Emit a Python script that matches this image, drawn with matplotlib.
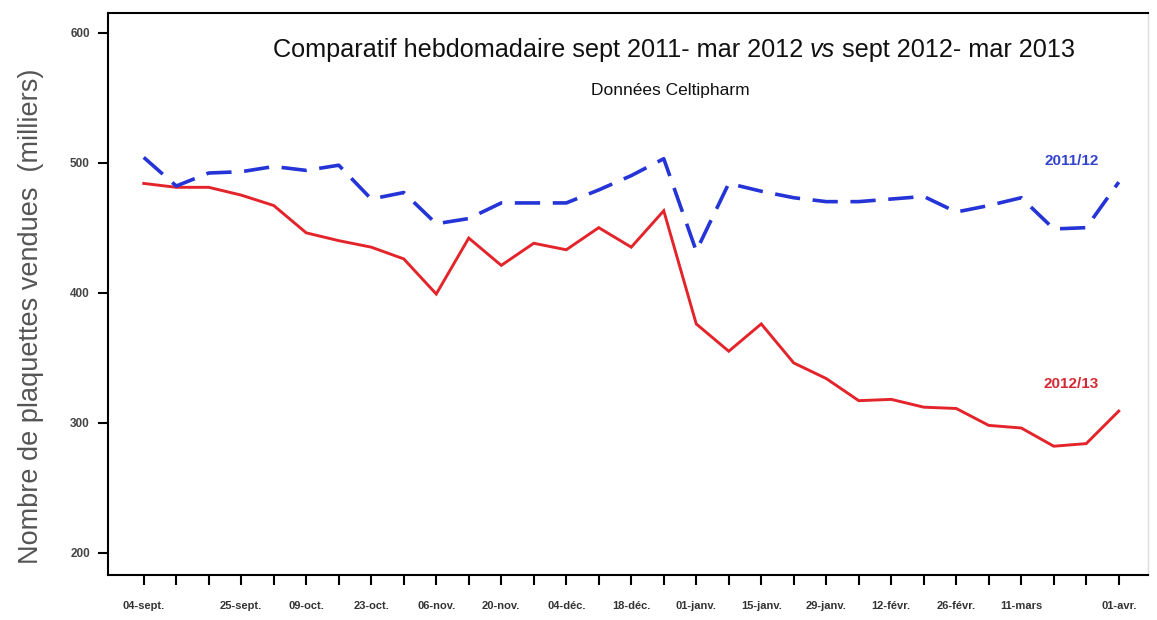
import matplotlib
matplotlib.use("Agg")
import matplotlib.pyplot as plt
from matplotlib import font_manager

# weekly sales, thousands of packs
weeks = list(range(31))
sales_2011 = [504, 482, 492, 493, 497, 494, 498, 472, 477, 453, 457,
              469, 469, 469, 479, 490, 503, 432, 484, 478, 473, 470,
              470, 472, 474, 462, 467, 473, 449, 450, 485]
sales_2012 = [484, 481, 481, 475, 467, 446, 440, 435, 426, 399, 442,
              421, 438, 433, 450, 435, 463, 376, 355, 376, 346, 334,
              317, 318, 312, 311, 298, 296, 282, 284, 309]
label_pos = [0, 3, 5, 7, 9, 11, 13, 15, 17, 19, 21, 23, 25, 27, 30]
label_txt = ["04-sept.", "25-sept.", "09-oct.", "23-oct.", "06-nov.",
             "20-nov.", "04-déc.", "18-déc.", "01-janv.", "15-janv.",
             "29-janv.", "12-févr.", "26-févr.", "11-mars", "01-avr."]
y_ticks = [200, 300, 400, 500, 600]

names = {f.name for f in font_manager.fontManager.ttflist}
narrow = "Liberation Sans Narrow" if "Liberation Sans Narrow" in names else "Liberation Sans"
plt.rcParams["font.family"] = [narrow, "DejaVu Sans"]

fig = plt.figure(figsize=(11.57, 6.2), dpi=100)
ax = fig.add_axes([108 / 1157, 45 / 620, 1040 / 1157, 562 / 620])

ax.plot(weeks, sales_2012, color="#e3242b", lw=2.1, solid_joinstyle="miter")
ax.plot(weeks, sales_2011, color="#2434d6", lw=2.6, dashes=(7, 3.5))

ax.set_xlim(-1.1, 30.9)
ax.set_ylim(183, 615)
ax.set_xticks(weeks)
ax.set_xticklabels([""] * len(weeks))
for p, t in zip(label_pos, label_txt):
    ax.text(p, 183 - 24, t, ha="center", va="center", fontsize=8,
            fontweight="bold", color="#333333")
ax.set_yticks(y_ticks)
ax.set_yticklabels([str(v) for v in y_ticks], fontsize=8.5,
                   fontweight="bold", color="#444444")
ax.tick_params(axis="both", direction="out", length=7, width=1.5, pad=6)
for s in ax.spines.values():
    s.set_linewidth(1.5)
ax.spines["right"].set_color("#dddddd")
ax.spines["right"].set_linewidth(1.0)

ax.set_ylabel("Nombre de plaquettes vendues  (milliers)", fontsize=19.5,
              color="#555555", family=["Liberation Sans", "DejaVu Sans"])
ax.yaxis.set_label_coords(-0.062, 0.46)

ax.text(29.4, 501, "2011/12", color="#3344cc", fontsize=11,
        fontweight="bold", ha="right", va="center")
ax.text(29.4, 330, "2012/13", color="#d42a36", fontsize=11,
        fontweight="bold", ha="right", va="center")

# title with italic "vs"
parts = [("Comparatif hebdomadaire sept 2011- mar 2012 ", "normal"),
         ("vs", "italic"),
         (" sept 2012- mar 2013", "normal")]
fig.canvas.draw()
r = fig.canvas.get_renderer()
texts = []
for s, st in parts:
    t = fig.text(0, 1 - 50 / 620, s, fontsize=18.2, style=st, va="center",
                 ha="left", color="#111111")
    texts.append(t)
widths = [t.get_window_extent(r).width for t in texts]
total = sum(widths)
x0 = 674 - total / 2
for t, w in zip(texts, widths):
    t.set_x(x0 / 1157)
    x0 += w
fig.text(670 / 1157, 1 - 90 / 620, "Données Celtipharm", fontsize=12.5,
         ha="center", va="center", color="#111111")

fig.savefig("out.png", dpi=100)
